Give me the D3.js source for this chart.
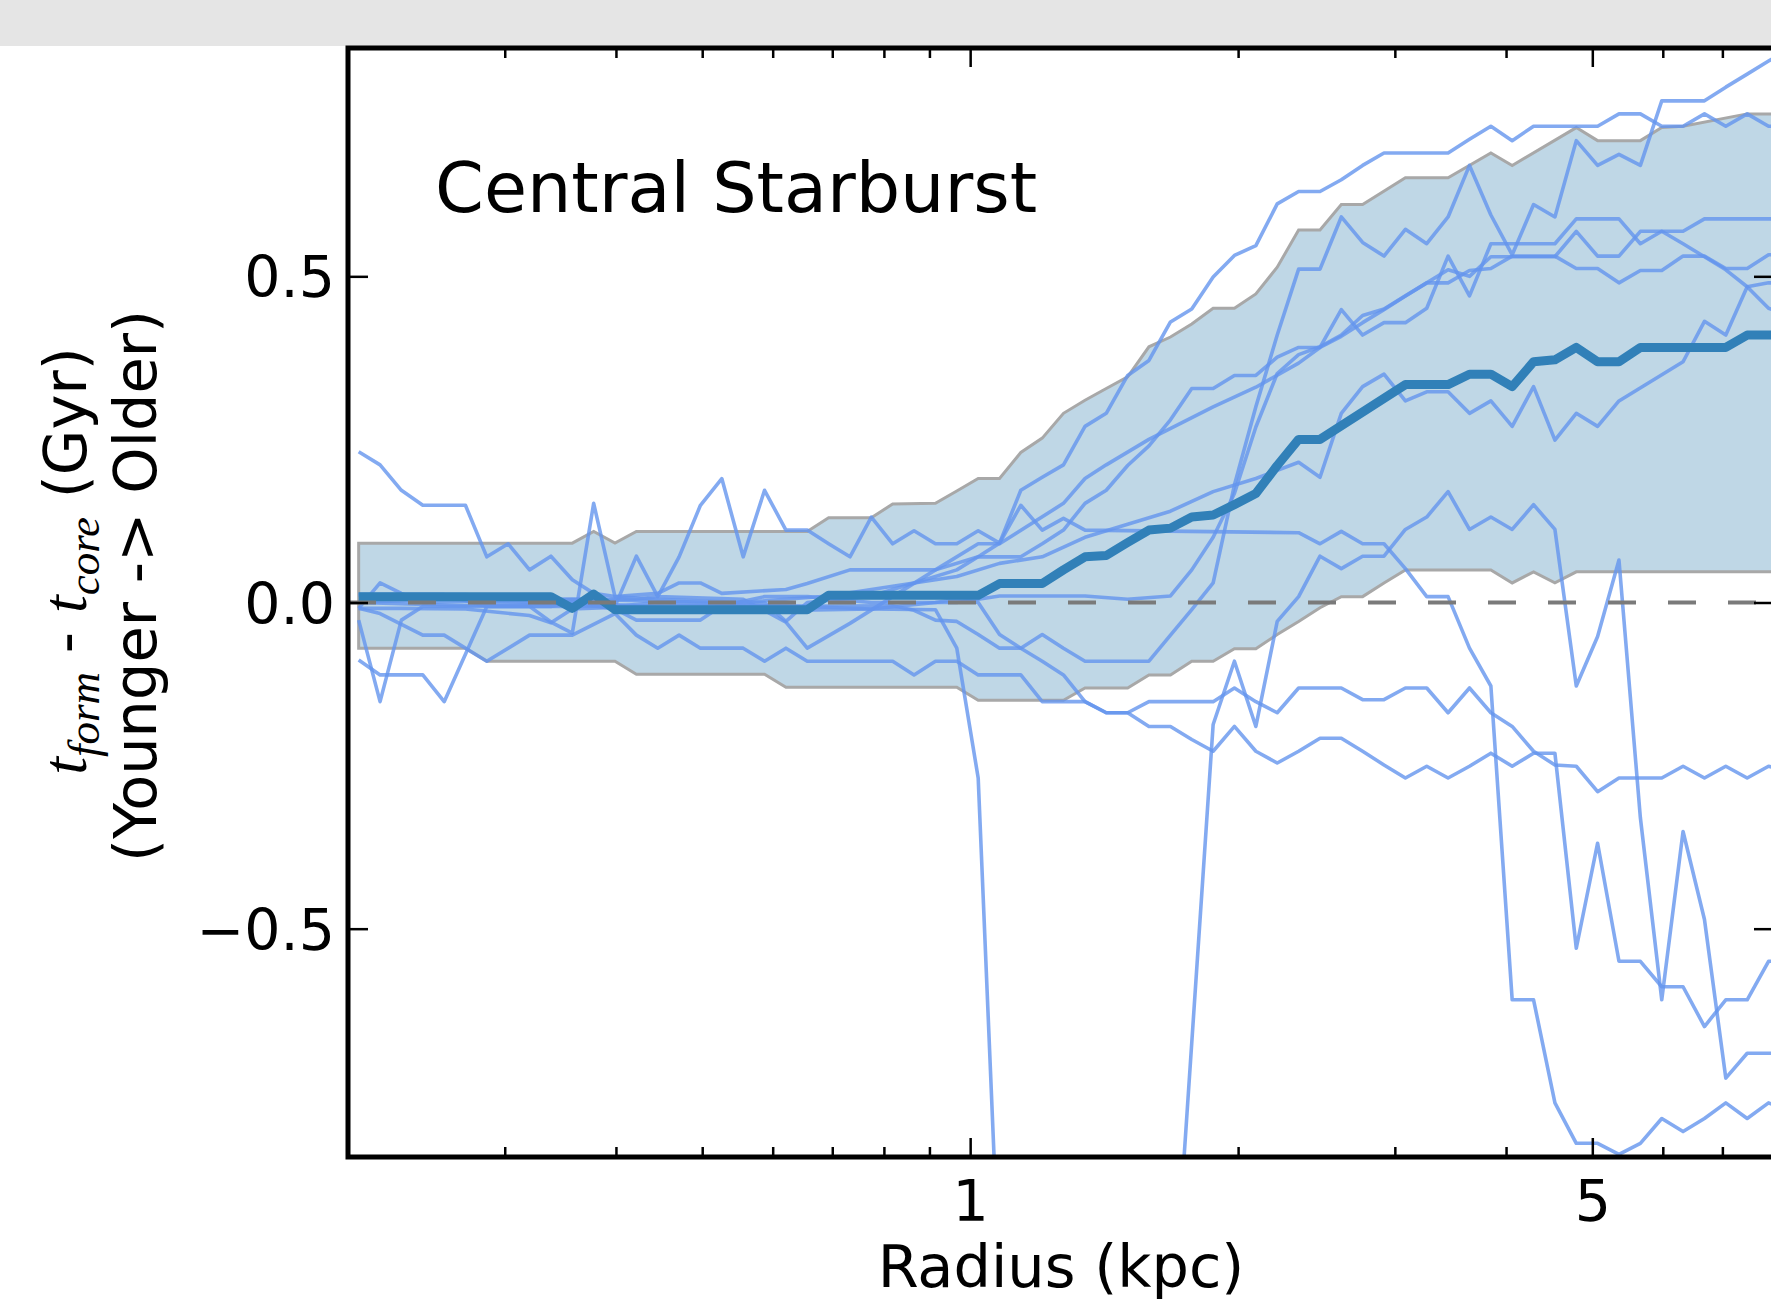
<!doctype html>
<html lang="en">
<head>
<meta charset="utf-8">
<script src="https://cdnjs.cloudflare.com/ajax/libs/d3/7.8.5/d3.min.js"></script>
<style>
  body { margin: 0; padding: 0; background: #fff; }
  svg { display: block; }
  text { white-space: pre; }
</style>
</head>
<body>
<svg id="canvas"></svg>
<script>

// radial bins (kpc), log spaced
var radius = [0.2056, 0.2173, 0.2296, 0.2427, 0.2565, 0.2710, 0.2864, 0.3027, 0.3199, 0.3381,
  0.3573, 0.3776, 0.3990, 0.4217, 0.4457, 0.4710, 0.4977, 0.5260, 0.5559, 0.5875,
  0.6209, 0.6561, 0.6934, 0.7328, 0.7744, 0.8184, 0.8649, 0.9141, 0.9660, 1.021,
  1.079, 1.140, 1.205, 1.273, 1.346, 1.422, 1.503, 1.588, 1.679, 1.774,
  1.875, 1.981, 2.094, 2.213, 2.339, 2.472, 2.612, 2.760, 2.917, 3.083,
  3.258, 3.443, 3.639, 3.846, 4.064, 4.295, 4.539, 4.797, 5.069, 5.357,
  5.662, 5.984, 6.323, 6.683, 7.062, 7.464, 7.888, 8.336];

// each profile: [bin index, t_form - t_core (Gyr)] at the corners of the polyline
var galaxyA = [[0,-0.027],[1,-0.152],[2,-0.027],[3,-0.006],[12,-0.006],[14,0.0],[20,-0.006],[25,-0.005],
  [26,-0.012],[27,-0.027],[28,-0.029],[29,-0.049],[30,-0.070],[31,-0.070],[32,-0.049],[33,-0.070],
  [34,-0.090],[37,-0.090],[38,-0.050],[39,-0.011],[40,0.030],[41,0.18],[42,0.30],[43,0.41],
  [44,0.511],[45,0.511],[46,0.591],[47,0.552],[48,0.531],[49,0.572],[50,0.550],[51,0.591],
  [52,0.670],[53,0.594],[54,0.533],[55,0.610],[56,0.591],[57,0.708],[58,0.670],[59,0.687],
  [60,0.670],[61,0.769],[63,0.769],[64,0.79],[65,0.81],[66,0.83],[67,0.85]];

var galaxyB = [[0,0.012],[5,0.012],[9,0.005],[13,0.005],[14,0.009],[15,0.070],[16,0.149],[17,0.190],
  [18,0.070],[19,0.172],[20,0.111],[21,0.111],[22,0.09],[23,0.070],[24,0.131],[25,0.090],
  [26,0.110],[27,0.090],[28,0.090],[29,0.110],[30,0.091],[31,0.172],[32,0.192],[33,0.211],
  [34,0.270],[35,0.290],[36,0.348],[37,0.371],[38,0.430],[39,0.450],[40,0.499],[41,0.532],
  [42,0.547],[43,0.611],[44,0.630],[45,0.630],[46,0.648],[47,0.670],[48,0.689],[51,0.689],
  [52,0.710],[53,0.730],[54,0.708],[55,0.730],[58,0.730],[59,0.749],[60,0.749],[61,0.730],
  [62,0.730],[63,0.749],[64,0.730],[65,0.749],[66,0.730],[67,0.730]];

var galaxyC = [[0,0.231],[1,0.211],[2,0.172],[3,0.149],[5,0.149],[6,0.070],[7,0.090],[8,0.050],
  [9,0.071],[10,0.035],[11,0.014],[12,0.009],[14,0.014],[15,0.030],[16,0.030],[17,0.014],
  [20,0.020],[21,0.029],[23,0.050],[27,0.050],[29,0.070],[31,0.070],[32,0.090],[33,0.111],
  [34,0.152],[35,0.172],[36,0.21],[37,0.24],[38,0.28],[39,0.328],[40,0.328],[41,0.348],
  [42,0.348],[43,0.376],[44,0.391],[45,0.391],[46,0.449],[47,0.410],[48,0.429],[49,0.429],
  [50,0.451],[51,0.531],[52,0.470],[53,0.550],[56,0.550],[57,0.588],[59,0.588],[60,0.550],
  [61,0.569],[62,0.569],[63,0.588],[67,0.588]];

var galaxyD = [[0,0.0],[4,0.005],[8,0.0],[12,-0.006],[13,0.071],[14,0.009],[18,0.005],[20,-0.03],
  [21,-0.070],[23,-0.032],[25,0.009],[27,0.050],[29,0.090],[30,0.090],[33,0.152],[34,0.190],
  [35,0.211],[37,0.25],[40,0.30],[42,0.33],[44,0.367],[45,0.391],[46,0.408],[47,0.429],
  [48,0.449],[49,0.470],[50,0.490],[51,0.490],[52,0.509],[53,0.512],[54,0.531],[56,0.531],
  [57,0.512],[58,0.512],[59,0.490],[60,0.509],[61,0.509],[62,0.531],[63,0.531],[64,0.512],
  [65,0.512],[66,0.533],[67,0.533]];

var galaxyE = [[0,-0.009],[1,0.030],[2,0.014],[3,0.0],[10,0.005],[17,0.0],[19,0.0],[20,-0.029],
  [21,0.0],[24,0.01],[26,0.03],[28,0.04],[30,0.06],[32,0.07],[34,0.10],[36,0.12],[38,0.14],
  [40,0.17],[42,0.19],[44,0.215],[45,0.192],[46,0.29],[47,0.331],[48,0.35],[49,0.309],
  [50,0.323],[51,0.323],[52,0.29],[53,0.309],[54,0.270],[55,0.331],[56,0.249],[57,0.29],
  [58,0.270],[59,0.309],[62,0.369],[63,0.431],[64,0.41],[65,0.484],[66,0.49],[67,0.49]];

var galaxyF = [[0,0.0],[5,-0.005],[10,0.0],[12,-0.01],[13,-0.027],[16,-0.027],[17,-0.005],[19,0.009],
  [21,0.009],[24,0.0],[28,0.0],[30,0.01],[34,0.01],[36,0.005],[38,0.01],[39,0.05],[40,0.10],
  [41,0.167],[42,0.269],[43,0.351],[44,0.38],[45,0.392],[46,0.41],[47,0.44],[48,0.45],
  [49,0.47],[50,0.49],[51,0.51],[52,0.50],[53,0.53],[56,0.53],[57,0.569],[58,0.531],
  [59,0.531],[60,0.569],[61,0.569],[62,0.55],[63,0.53],[64,0.51],[65,0.484],[66,0.451],[67,0.44]];

var galaxyG = [[0,-0.009],[1,-0.017],[3,-0.050],[4,-0.050],[6,-0.090],[8,-0.050],[10,-0.050],
  [12,-0.017],[13,-0.050],[14,-0.070],[15,-0.050],[16,-0.070],[18,-0.070],[19,-0.090],
  [20,-0.070],[21,-0.090],[25,-0.090],[26,-0.111],[27,-0.090],[28,-0.090],[29,-0.111],
  [31,-0.111],[32,-0.152],[34,-0.152],[35,-0.169],[36,-0.169],[37,-0.152],[40,-0.152],
  [41,-0.131],[42,-0.152],[43,-0.169],[44,-0.131],[46,-0.131],[47,-0.149],[48,-0.149],
  [49,-0.131],[50,-0.131],[51,-0.169],[52,-0.131],[53,-0.169],[54,-0.190],[55,-0.228],
  [56,-0.249],[57,-0.251],[58,-0.290],[59,-0.269],[61,-0.269],[62,-0.251],[63,-0.269],
  [64,-0.251],[65,-0.269],[66,-0.251],[67,-0.26]];

var galaxyH = [[0,-0.088],[1,-0.111],[3,-0.111],[4,-0.152],[6,-0.006],[9,-0.006],[10,0.0],
  [16,-0.01],[20,-0.012],[24,-0.01],[27,0.0],[28,0.005],[29,0.0],[30,-0.049],[31,-0.070],
  [32,-0.090],[33,-0.111],[34,-0.152],[35,-0.169],[36,-0.169],[37,-0.190],[38,-0.190],
  [39,-0.210],[40,-0.228],[41,-0.190],[42,-0.228],[43,-0.246],[44,-0.228],[45,-0.208],
  [46,-0.208],[47,-0.228],[48,-0.249],[49,-0.269],[50,-0.251],[51,-0.269],[52,-0.251],
  [53,-0.231],[54,-0.251],[55,-0.231],[56,-0.231],[57,-0.530],[58,-0.369],[59,-0.550],
  [60,-0.550],[61,-0.589],[62,-0.589],[63,-0.650],[64,-0.609],[65,-0.609],[66,-0.550],[67,-0.55]];

var galaxyI = [[0,-0.009],[2,-0.009],[5,-0.01],[8,-0.02],[9,-0.031],[10,-0.01],[14,-0.005],
  [20,-0.005],[24,-0.01],[27,-0.011],[28,-0.070],[29,-0.269],[30,-1.05],[38,-1.16],
  [40,-0.187],[41,-0.090],[42,-0.190],[43,-0.029],[44,0.009],[45,0.071],[46,0.052],
  [47,0.071],[48,0.071],[49,0.112],[50,0.131],[51,0.170],[52,0.112],[53,0.131],[54,0.112],
  [55,0.150],[56,0.112],[57,-0.128],[58,-0.052],[59,0.065],[60,-0.33],[61,-0.609],
  [62,-0.351],[63,-0.486],[64,-0.729],[65,-0.691],[66,-0.691],[67,-0.69]];

var galaxyJ = [[0,0.012],[4,0.012],[6,-0.006],[8,-0.006],[9,-0.03],[10,-0.047],[11,0.152],
  [12,0.009],[14,0.005],[18,0.0],[22,0.01],[26,0.03],[28,0.05],[29,0.07],[30,0.091],
  [31,0.149],[32,0.111],[33,0.129],[34,0.111],[44,0.107],[45,0.090],[46,0.109],[47,0.090],
  [48,0.090],[49,0.052],[50,0.009],[51,0.009],[52,-0.070],[53,-0.128],[54,-0.609],
  [55,-0.609],[56,-0.767],[57,-0.829],[58,-0.829],[59,-0.846],[60,-0.829],[61,-0.791],
  [62,-0.811],[63,-0.791],[64,-0.767],[65,-0.791],[66,-0.767],[67,-0.78]];

var galaxies = [galaxyA, galaxyB, galaxyC, galaxyD, galaxyE, galaxyF, galaxyG, galaxyH, galaxyI, galaxyJ];

var median = [[0,0.009],[9,0.009],[10,-0.009],[11,0.013],[12,-0.011],[21,-0.011],[22,0.011],
  [29,0.011],[30,0.029],[32,0.029],[33,0.05],[34,0.070],[35,0.072],[36,0.092],[37,0.111],
  [38,0.114],[39,0.131],[40,0.134],[41,0.150],[42,0.167],[43,0.21],[44,0.250],[45,0.250],
  [49,0.334],[51,0.334],[52,0.350],[53,0.350],[54,0.331],[55,0.369],[56,0.372],[57,0.391],
  [58,0.369],[59,0.369],[60,0.391],[64,0.391],[65,0.410],[67,0.410]];

var bandHigh = [[0,0.091],[10,0.091],[11,0.109],[12,0.091],[13,0.109],[21,0.109],[22,0.130],
  [24,0.130],[25,0.151],[27,0.152],[28,0.171],[29,0.190],[30,0.190],[31,0.230],[32,0.252],
  [33,0.290],[34,0.310],[35,0.328],[36,0.346],[37,0.392],[38,0.407],[39,0.427],[40,0.451],
  [41,0.451],[42,0.473],[43,0.514],[44,0.571],[45,0.571],[46,0.610],[47,0.610],[49,0.651],
  [51,0.651],[53,0.689],[54,0.670],[57,0.728],[58,0.708],[60,0.708],[61,0.728],[62,0.73],
  [65,0.749],[67,0.749]];

var bandLow = [[0,-0.070],[5,-0.070],[6,-0.090],[12,-0.090],[13,-0.110],[19,-0.110],[20,-0.130],
  [28,-0.130],[29,-0.150],[33,-0.150],[34,-0.131],[36,-0.131],[37,-0.111],[38,-0.111],
  [39,-0.090],[40,-0.090],[41,-0.071],[42,-0.071],[43,-0.049],[44,-0.029],[45,-0.008],
  [46,0.009],[47,0.009],[48,0.030],[49,0.050],[53,0.050],[54,0.030],[55,0.047],[56,0.030],
  [57,0.047],[67,0.047]];

var xMajorTicks = [1, 5];
var xMinorTicks = [0.3, 0.4, 0.5, 0.6, 0.7, 0.8, 0.9, 2, 3, 4, 6, 7];
var yTicks = [-0.5, 0.0, 0.5];

var W = 1771, H = 1302;
var plot = {left: 348, right: 1774, top: 48, bottom: 1157};

var svg = d3.select('#canvas').attr('width', W).attr('height', H);
svg.append('rect').attr('width', W).attr('height', H).attr('fill', '#fff');
svg.append('rect').attr('width', W).attr('height', 46).attr('fill', '#e5e5e5');

var x = d3.scaleLog().domain([0.2, 8]).range([plot.left, plot.right]);
var y = d3.scaleLinear().domain([-0.85, 0.85]).range([plot.bottom, plot.top]);

svg.append('clipPath').attr('id', 'clip').append('rect')
  .attr('x', plot.left).attr('y', plot.top)
  .attr('width', plot.right - plot.left).attr('height', plot.bottom - plot.top);

var g = svg.append('g').attr('clip-path', 'url(#clip)');

function toPoints(list) {
  return list.map(function(d) { return [radius[d[0]], d[1]]; });
}

var line = d3.line()
  .x(function(d) { return x(d[0]); })
  .y(function(d) { return y(d[1]); });

// 16-84 percentile band
var bandPts = toPoints(bandHigh).concat(toPoints(bandLow).reverse());
g.append('path')
  .attr('d', line(bandPts) + 'Z')
  .attr('fill', '#bfd7e6')
  .attr('stroke', '#a8a8a8')
  .attr('stroke-width', 3);

g.selectAll('.galaxy').data(galaxies).enter().append('path')
  .attr('class', 'galaxy')
  .attr('d', function(d) { return line(toPoints(d)); })
  .attr('fill', 'none')
  .attr('stroke', '#6495ed')
  .attr('stroke-opacity', 0.8)
  .attr('stroke-width', 3.6)
  .attr('stroke-linejoin', 'round');

g.append('path')
  .attr('d', line(toPoints(median)))
  .attr('fill', 'none')
  .attr('stroke', '#3180b8')
  .attr('stroke-width', 9)
  .attr('stroke-linejoin', 'round');

g.append('line')
  .attr('x1', plot.left).attr('x2', plot.right)
  .attr('y1', y(0)).attr('y2', y(0))
  .attr('stroke', '#7a7a7a')
  .attr('stroke-width', 4)
  .attr('stroke-dasharray', '28,32');

// axes, ticks pointing inward
function styleAxis(sel) {
  sel.select('.domain').remove();
  sel.selectAll('.tick line').attr('stroke', '#000').attr('stroke-width', 2.5);
  sel.selectAll('.tick text')
    .attr('fill', '#000')
    .style('font-family', 'DejaVu Sans')
    .style('font-size', '57px');
}

svg.append('g').attr('transform', 'translate(0,' + plot.bottom + ')')
  .call(d3.axisBottom(x).tickValues(xMinorTicks).tickSize(-10).tickFormat(''))
  .call(styleAxis);
svg.append('g').attr('transform', 'translate(0,' + plot.bottom + ')')
  .call(d3.axisBottom(x).tickValues(xMajorTicks).tickSize(-19).tickPadding(24)
    .tickFormat(d3.format('d')))
  .call(styleAxis);
svg.append('g').attr('transform', 'translate(0,' + plot.top + ')')
  .call(d3.axisTop(x).tickValues(xMinorTicks).tickSize(-10).tickFormat(''))
  .call(styleAxis);
svg.append('g').attr('transform', 'translate(0,' + plot.top + ')')
  .call(d3.axisTop(x).tickValues(xMajorTicks).tickSize(-19).tickFormat(''))
  .call(styleAxis);

var yAxis = svg.append('g').attr('transform', 'translate(' + plot.left + ',0)')
  .call(d3.axisLeft(y).tickValues(yTicks).tickSize(-20).tickPadding(13)
    .tickFormat(d3.format('.1f')))
  .call(styleAxis);
yAxis.selectAll('.tick text').attr('dy', '0.36em');

svg.append('g').attr('transform', 'translate(' + plot.right + ',0)')
  .call(d3.axisRight(y).tickValues(yTicks).tickSize(-20).tickFormat(''))
  .call(styleAxis);

svg.append('rect')
  .attr('x', plot.left).attr('y', plot.top)
  .attr('width', plot.right - plot.left).attr('height', plot.bottom - plot.top)
  .attr('fill', 'none')
  .attr('stroke', '#000')
  .attr('stroke-width', 5);

// labels
svg.append('text')
  .attr('x', 435).attr('y', 212)
  .style('font-family', 'DejaVu Sans')
  .style('font-size', '70px')
  .text('Central Starburst');

svg.append('text')
  .attr('x', (plot.left + plot.right) / 2).attr('y', 1287)
  .attr('text-anchor', 'middle')
  .style('font-family', 'DejaVu Sans')
  .style('font-size', '59px')
  .text('Radius (kpc)');

var ylab1 = svg.append('text')
  .attr('transform', 'translate(86,561) rotate(-90)')
  .attr('text-anchor', 'middle')
  .style('font-family', 'DejaVu Sans')
  .style('font-size', '59px');
function mathPart(sel, base, sub) {
  sel.append('tspan').style('font-family', 'Liberation Serif').style('font-style', 'italic')
    .style('font-size', '64px').text(base);
  sel.append('tspan').style('font-family', 'Liberation Serif').style('font-style', 'italic')
    .style('font-size', '45px').attr('dy', 13).text(sub);
}
mathPart(ylab1, 't', 'form');
ylab1.append('tspan').attr('dy', -13).text(' - ');
mathPart(ylab1, 't', 'core');
ylab1.append('tspan').attr('dy', -13).text(' (Gyr)');

svg.append('text')
  .attr('transform', 'translate(156,586) rotate(-90)')
  .attr('text-anchor', 'middle')
  .style('font-family', 'DejaVu Sans')
  .style('font-size', '59px')
  .text('(Younger -> Older)');

</script>
</body>
</html>
